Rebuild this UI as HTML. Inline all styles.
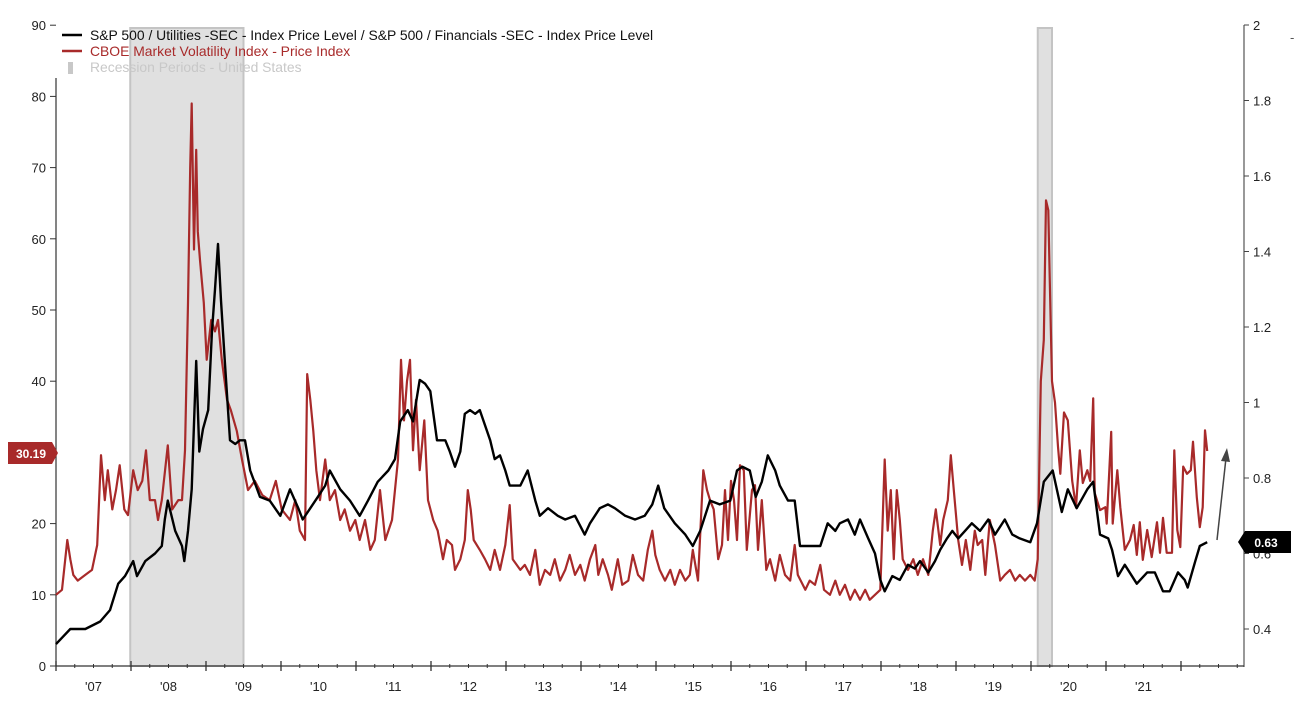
<!DOCTYPE html>
<html><head><meta charset="utf-8">
<style>
body{margin:0;background:#fff;}
svg{display:block;font-family:"Liberation Sans",Arial,sans-serif;}
</style></head>
<body>
<svg id="chart" width="1300" height="711" viewBox="0 0 1300 711" xmlns="http://www.w3.org/2000/svg">
<g id="rec"></g>
<g id="axes"></g>
<g id="series"></g>
<g>
  <line x1="62" y1="35" x2="82" y2="35" stroke="#000" stroke-width="2.5"/>
  <text x="90" y="40" font-size="13.9" fill="#111">S&amp;P 500 / Utilities -SEC - Index Price Level / S&amp;P 500 / Financials -SEC - Index Price Level</text>
  <line x1="62" y1="51" x2="82" y2="51" stroke="#a82a2a" stroke-width="2.5"/>
  <text x="90" y="56" font-size="13.9" fill="#a82a2a">CBOE Market Volatility Index - Price Index</text>
  <rect x="68" y="62" width="5" height="12" fill="#c8c8c8"/>
  <text x="90" y="72" font-size="13.9" fill="#c8c8c8">Recession Periods - United States</text>
  <text x="1290" y="42" font-size="13" fill="#555">-</text>
</g>
<g>
  <path d="M8,442 H52 L58,453 L52,464 H8 Z" fill="#a82a2a"/>
  <text x="31" y="458" font-size="12" font-weight="bold" fill="#fff" text-anchor="middle">30.19</text>
  <path d="M1238,542 L1245,531 H1291 V553 H1245 Z" fill="#000"/>
  <text x="1266" y="547" font-size="12" font-weight="bold" fill="#fff" text-anchor="middle">0.63</text>
  <line x1="1217" y1="540" x2="1226" y2="458" stroke="#444" stroke-width="1.5"/>
  <path d="M1221,461 L1227,448 L1230,462 Z" fill="#444"/>
</g>
</svg>
<script>
const recessionStarts = [2007.99, 2020.09];
const recessionEnds = [2009.50, 2020.28];
const leftTicks = [0,10,20,30,40,50,60,70,80,90];
const rightTicks = [0.4,0.6,0.8,1,1.2,1.4,1.6,1.8,2];
const yearLabels = ["'07","'08","'09","'10","'11","'12","'13","'14","'15","'16","'17","'18","'19","'20","'21"];
const yearStarts = [2007,2008,2009,2010,2011,2012,2013,2014,2015,2016,2017,2018,2019,2020,2021,2022];

const ratioDates = [2007.00,2007.19,2007.39,2007.59,2007.72,2007.83,2007.92,2008.03,2008.08,2008.19,2008.32,2008.41,2008.45,2008.49,2008.59,2008.68,2008.71,2008.76,2008.81,2008.87,2008.91,2008.96,2009.03,2009.08,2009.12,2009.16,2009.20,2009.25,2009.32,2009.39,2009.45,2009.52,2009.59,2009.72,2009.85,2009.99,2010.12,2010.23,2010.29,2010.39,2010.49,2010.59,2010.65,2010.79,2010.92,2011.05,2011.16,2011.29,2011.43,2011.52,2011.59,2011.69,2011.76,2011.85,2011.92,2011.99,2012.08,2012.19,2012.25,2012.32,2012.39,2012.45,2012.52,2012.59,2012.65,2012.79,2012.85,2012.92,2012.99,2013.05,2013.19,2013.29,2013.39,2013.45,2013.56,2013.69,2013.79,2013.92,2014.05,2014.12,2014.25,2014.36,2014.45,2014.59,2014.72,2014.85,2014.95,2015.03,2015.11,2015.25,2015.39,2015.49,2015.59,2015.72,2015.85,2015.99,2016.08,2016.15,2016.25,2016.33,2016.41,2016.49,2016.59,2016.65,2016.76,2016.85,2016.92,2017.05,2017.19,2017.29,2017.39,2017.45,2017.56,2017.65,2017.72,2017.83,2017.92,2017.99,2018.05,2018.15,2018.25,2018.36,2018.45,2018.52,2018.63,2018.72,2018.79,2018.88,2018.95,2019.03,2019.12,2019.21,2019.32,2019.43,2019.52,2019.65,2019.75,2019.85,2019.99,2020.08,2020.17,2020.29,2020.41,2020.49,2020.61,2020.75,2020.83,2020.92,2021.03,2021.08,2021.16,2021.25,2021.41,2021.55,2021.65,2021.76,2021.85,2021.96,2022.05,2022.09,2022.19,2022.25,2022.35];
const ratioValues = [0.36,0.40,0.40,0.42,0.45,0.52,0.54,0.58,0.54,0.58,0.60,0.62,0.69,0.74,0.66,0.62,0.58,0.66,0.77,1.11,0.87,0.93,0.98,1.19,1.30,1.42,1.27,1.11,0.90,0.89,0.90,0.90,0.82,0.75,0.74,0.70,0.77,0.72,0.69,0.72,0.75,0.78,0.82,0.77,0.74,0.70,0.74,0.79,0.82,0.85,0.95,0.98,0.95,1.06,1.05,1.03,0.90,0.90,0.87,0.83,0.87,0.97,0.98,0.97,0.98,0.90,0.85,0.86,0.82,0.78,0.78,0.82,0.74,0.70,0.72,0.70,0.69,0.70,0.65,0.68,0.72,0.73,0.72,0.70,0.69,0.70,0.73,0.78,0.72,0.68,0.65,0.62,0.66,0.74,0.73,0.74,0.82,0.83,0.82,0.75,0.79,0.86,0.82,0.78,0.74,0.74,0.62,0.62,0.62,0.68,0.66,0.68,0.69,0.65,0.69,0.64,0.60,0.53,0.50,0.54,0.53,0.57,0.56,0.58,0.55,0.58,0.61,0.64,0.66,0.64,0.66,0.68,0.66,0.69,0.65,0.69,0.65,0.64,0.63,0.68,0.79,0.82,0.71,0.77,0.72,0.77,0.79,0.65,0.64,0.61,0.54,0.57,0.52,0.55,0.55,0.50,0.50,0.55,0.53,0.51,0.58,0.62,0.63];

const vixDates = [2007.00,2007.08,2007.15,2007.19,2007.23,2007.29,2007.39,2007.48,2007.55,2007.60,2007.65,2007.69,2007.75,2007.80,2007.85,2007.91,2007.96,2008.03,2008.09,2008.15,2008.20,2008.25,2008.32,2008.36,2008.41,2008.49,2008.55,2008.63,2008.68,2008.72,2008.76,2008.79,2008.81,2008.84,2008.87,2008.89,2008.92,2008.97,2009.01,2009.07,2009.12,2009.16,2009.21,2009.28,2009.33,2009.41,2009.48,2009.56,2009.65,2009.75,2009.85,2009.93,2010.01,2010.12,2010.19,2010.25,2010.32,2010.35,2010.39,2010.43,2010.47,2010.52,2010.59,2010.65,2010.72,2010.79,2010.85,2010.92,2010.99,2011.05,2011.12,2011.19,2011.25,2011.32,2011.39,2011.48,2011.56,2011.60,2011.64,2011.68,2011.72,2011.76,2011.80,2011.85,2011.91,2011.96,2012.03,2012.09,2012.16,2012.21,2012.28,2012.32,2012.39,2012.45,2012.49,2012.53,2012.57,2012.65,2012.72,2012.79,2012.85,2012.92,2012.99,2013.05,2013.09,2013.19,2013.25,2013.32,2013.39,2013.45,2013.52,2013.59,2013.65,2013.72,2013.79,2013.85,2013.92,2013.99,2014.05,2014.12,2014.19,2014.23,2014.29,2014.36,2014.41,2014.49,2014.55,2014.63,2014.69,2014.76,2014.83,2014.89,2014.95,2014.99,2015.05,2015.12,2015.19,2015.25,2015.32,2015.39,2015.45,2015.49,2015.56,2015.63,2015.68,2015.72,2015.77,2015.83,2015.88,2015.92,2015.96,2016.00,2016.04,2016.08,2016.12,2016.17,2016.21,2016.28,2016.32,2016.36,2016.41,2016.47,2016.52,2016.59,2016.65,2016.72,2016.79,2016.85,2016.89,2016.99,2017.05,2017.12,2017.19,2017.24,2017.32,2017.39,2017.45,2017.52,2017.59,2017.65,2017.72,2017.79,2017.85,2017.92,2017.99,2018.05,2018.09,2018.13,2018.17,2018.21,2018.25,2018.29,2018.36,2018.43,2018.49,2018.56,2018.63,2018.69,2018.73,2018.79,2018.83,2018.89,2018.93,2018.97,2019.03,2019.08,2019.13,2019.19,2019.25,2019.29,2019.35,2019.39,2019.45,2019.52,2019.59,2019.65,2019.72,2019.79,2019.85,2019.92,2019.99,2020.05,2020.09,2020.13,2020.17,2020.20,2020.23,2020.25,2020.28,2020.32,2020.36,2020.39,2020.44,2020.49,2020.55,2020.60,2020.65,2020.69,2020.75,2020.79,2020.83,2020.85,2020.92,2020.99,2021.01,2021.07,2021.09,2021.15,2021.19,2021.25,2021.32,2021.37,2021.41,2021.45,2021.49,2021.55,2021.61,2021.68,2021.72,2021.76,2021.81,2021.88,2021.91,2021.95,2021.99,2022.03,2022.08,2022.13,2022.16,2022.21,2022.25,2022.29,2022.32,2022.35];
const vixValues = [10,10.7,17.7,15,12.8,12,12.8,13.5,17,29.6,23.3,27.5,22,24.7,28.2,22,21.2,27.5,24.7,26,30.3,23.3,23.3,20.5,23.3,31,22,23.3,23.3,30.3,51,70,79,58.5,72.5,61,57,51,43,48.6,47,48.6,43,37.4,36,33,29,24.7,26,24,23.3,26,22,20.5,23.3,19,17.7,41,37.4,33,27.5,23.3,29,23.3,24.7,20.5,22,19,20.5,17.7,20.5,16.3,17.7,24.7,17.7,20.5,29,43,34.5,40,43,30.3,37.4,27.5,34.5,23.3,20.5,19,15,17.7,17,13.5,15,17.7,24.7,22,17.7,16.3,15,13.5,16.3,13.5,17,22.6,15,13.5,14.2,12.8,16.3,11.4,13.5,12.8,15,12,13.5,15.6,12.8,14.2,12,15,17,12.8,15,12.8,10.7,15,11.4,12,15.6,12.8,12,16.3,19,15.6,13.5,12,13.5,11.4,13.5,12,12.8,16.3,12,27.5,24.7,23.3,22,15,17,24.7,17.7,26,23.3,17.7,28.2,27.5,16.3,24.7,25.4,16.3,23.3,13.5,15,12,15.6,12.8,12,17,12.8,10.7,12,11.4,14.2,10.7,10,12,10,11.4,9.3,10.7,9.3,10.7,9.3,10,10.7,29,19,24.7,15,24.7,20.5,15,13.5,15,12.8,15,12.8,19,22,17,20.5,23.3,29.6,24.7,17.7,14.2,17.7,13.5,19,17,17.7,12.8,20.5,17,12,12.8,13.5,12,12.8,12,12.8,12,15,40,45.8,65.4,64,54,40,37,30.8,27,35.6,34.5,26,22.3,30.3,25.7,27.5,26,37.6,24.3,21.9,22.3,20,32.9,20,27.5,22.3,16.3,17.7,19.8,15.6,20.2,14.9,19.1,15.3,20.2,15.9,20.8,15.9,15.9,30.3,19.1,16.7,28,27,27.5,31.5,23.7,19.5,22.3,33.1,30.19];

const NS = "http://www.w3.org/2000/svg";
const X0 = 56, X1 = 1244, YB = 666;
function xScale(t){ return 131 + (t - 2008) * 75; }
function yLeft(v){ return 666 - v * 7.12; }
function yRight(v){ return 629 - (v - 0.4) * 377.5; }
function mk(tag, attrs, parent){
  const el = document.createElementNS(NS, tag);
  for (const k in attrs) el.setAttribute(k, attrs[k]);
  parent.appendChild(el);
  return el;
}
const rec = document.getElementById('rec');
const axes = document.getElementById('axes');
const series = document.getElementById('series');

recessionStarts.forEach((s, i) => {
  const xa = xScale(s), xb = xScale(recessionEnds[i]);
  const r = mk('rect', {x: xa, y: 28, width: xb - xa, height: YB - 28, fill: '#e0e0e0', stroke: '#c4c4c4', 'stroke-width': 2}, rec);
  
  
});

const la = mk('line', {x1: X0, y1: 78, x2: X0, y2: YB, stroke: '#333', 'stroke-width': 1.2}, axes);


leftTicks.forEach(v => {
  const y = yLeft(v);
  const tk = mk('line', {x1: 50, y1: y, x2: X0, y2: y, stroke: '#333', 'stroke-width': 1}, axes);
  
  
  const t = mk('text', {x: 46, y: y + 5, 'font-size': 13, fill: '#222', 'text-anchor': 'end'}, axes);
  t.textContent = v;
  
  
});
const ra = mk('line', {x1: X1, y1: 25, x2: X1, y2: 667, stroke: '#555', 'stroke-width': 1.2}, axes);


rightTicks.forEach(v => {
  const y = yRight(v);
  const tk = mk('line', {x1: X1, y1: y, x2: X1 + 5, y2: y, stroke: '#444', 'stroke-width': 1}, axes);
  
  
  const t = mk('text', {x: 1253, y: y + 5, 'font-size': 13, fill: '#222'}, axes);
  t.textContent = v;
  
  
});
const xa = mk('line', {x1: X0, y1: YB, x2: X1, y2: YB, stroke: '#333', 'stroke-width': 1.2}, axes);


yearStarts.forEach(yr => {
  for (let q = 0; q < 4; q++) {
    const x = xScale(yr + q * 0.25);
    if (x < X0 || x > X1) continue;
    const major = q === 0;
    const tk = mk('line', {x1: x, y1: major ? YB - 5 : YB - 2, x2: x, y2: major ? YB + 5 : YB + 2, stroke: '#333', 'stroke-width': major ? 1.3 : 1}, axes);
    
    
  }
});
yearLabels.forEach((lab, i) => {
  const t = mk('text', {x: xScale(yearStarts[i] + 0.5), y: 691, 'font-size': 13, fill: '#222', 'text-anchor': 'middle'}, axes);
  t.textContent = lab;
  
  
});

function pathFrom(dates, vals, yf){
  return dates.map((d, i) => (i ? 'L' : 'M') + xScale(d).toFixed(1) + ',' + yf(vals[i]).toFixed(1)).join(' ');
}
const vix = mk('path', {d: pathFrom(vixDates, vixValues, yLeft), fill: 'none', stroke: '#a82a2a', 'stroke-width': 2.2, 'stroke-linejoin': 'round'}, series);


const ratio = mk('path', {d: pathFrom(ratioDates, ratioValues, yRight), fill: 'none', stroke: '#000', 'stroke-width': 2.4, 'stroke-linejoin': 'round'}, series);


</script>
</body></html>
